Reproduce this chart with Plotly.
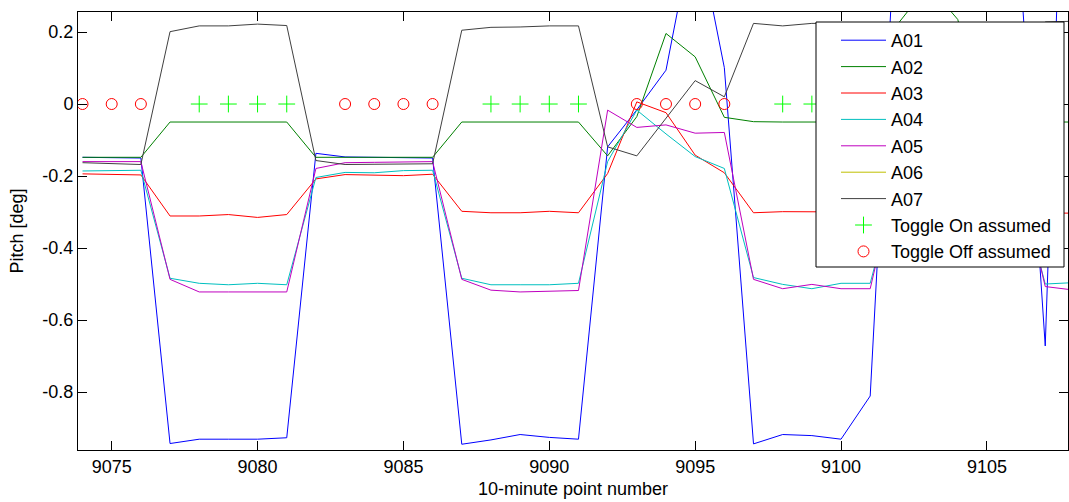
import plotly.graph_objects as go

# ---------------- data ----------------
points = list(range(9074, 9109))

A01 = [-0.148, -0.148, -0.150, -0.943, -0.931, -0.931, -0.931, -0.927, -0.137, -0.147,
       -0.148, -0.148, -0.150, -0.945, -0.933, -0.918, -0.926, -0.931, -0.119, -0.016,
       0.094, 0.510, 0.101, -0.944, -0.918, -0.921, -0.931, -0.811, 0.710, 0.750,
       0.700, 0.650, 0.550, -0.672, 1.700]
A02 = [-0.148, -0.148, -0.148, -0.050, -0.050, -0.050, -0.050, -0.050, -0.148, -0.148,
       -0.148, -0.148, -0.148, -0.050, -0.050, -0.050, -0.050, -0.050, -0.144, -0.035,
       0.196, 0.131, -0.037, -0.049, -0.050, -0.050, -0.050, -0.050, 0.228, 0.330,
       0.235, -0.050, -0.050, -0.050, -0.050]
A03 = [-0.194, -0.195, -0.197, -0.311, -0.311, -0.307, -0.315, -0.307, -0.208, -0.196,
       -0.197, -0.199, -0.195, -0.298, -0.302, -0.302, -0.298, -0.302, -0.193, 0.006,
       -0.024, -0.142, -0.191, -0.302, -0.299, -0.299, -0.300, -0.300, -0.200, -0.200,
       -0.200, -0.200, -0.200, -0.303, -0.303]
A04 = [-0.186, -0.186, -0.184, -0.484, -0.498, -0.502, -0.498, -0.502, -0.204, -0.190,
       -0.191, -0.185, -0.184, -0.484, -0.502, -0.502, -0.502, -0.498, -0.160, -0.017,
       -0.083, -0.146, -0.179, -0.482, -0.501, -0.513, -0.498, -0.498, -0.190, -0.190,
       -0.190, -0.190, -0.190, -0.500, -0.496]
A05 = [-0.160, -0.160, -0.160, -0.487, -0.522, -0.522, -0.522, -0.522, -0.179, -0.163,
       -0.162, -0.161, -0.160, -0.487, -0.517, -0.522, -0.519, -0.518, -0.017, -0.065,
       -0.058, -0.081, -0.079, -0.487, -0.513, -0.501, -0.513, -0.513, -0.165, -0.165,
       -0.165, -0.165, -0.165, -0.507, -0.517]
A06 = [None] * len(points)
A07 = [-0.163, -0.165, -0.168, 0.201, 0.217, 0.217, 0.222, 0.218, -0.157, -0.168,
       -0.167, -0.167, -0.166, 0.205, 0.213, 0.214, 0.217, 0.217, -0.119, -0.144,
       -0.039, 0.065, 0.020, 0.224, 0.217, 0.224, 0.224, 0.225, -0.160, -0.160,
       -0.160, -0.160, -0.160, 0.228, 0.230]

series_names = ["A01", "A02", "A03", "A04", "A05", "A06", "A07"]
series_values = [A01, A02, A03, A04, A05, A06, A07]
series_colors = ["#0000ff", "#008000", "#ff0000", "#00bfbf", "#bf00bf", "#bfbf00", "#404040"]

toggle_on_x = [9078, 9079, 9080, 9081, 9088, 9089, 9090, 9091, 9098, 9099, 9100, 9101]
toggle_on_y = [0] * len(toggle_on_x)
toggle_off_x = [9074, 9075, 9076, 9083, 9084, 9085, 9086, 9093, 9094, 9095, 9096,
                9103, 9104, 9105, 9106]
toggle_off_y = [0] * len(toggle_off_x)

x_tick_vals = [9075, 9080, 9085, 9090, 9095, 9100, 9105]
x_tick_text = ["9075", "9080", "9085", "9090", "9095", "9100", "9105"]
y_tick_vals = [-0.8, -0.6, -0.4, -0.2, 0, 0.2]
y_tick_text = ["-0.8", "-0.6", "-0.4", "-0.2", "0", "0.2"]

# ---------------- figure ----------------
FONT = "Liberation Sans, Arial, sans-serif"
fig = go.Figure()

for name, vals, col in zip(series_names, series_values, series_colors):
    fig.add_trace(go.Scatter(x=points, y=vals, mode="lines", name=name,
                             line=dict(color=col, width=1)))

fig.add_trace(go.Scatter(x=toggle_on_x, y=toggle_on_y, mode="markers",
                         name="Toggle On assumed",
                         marker=dict(symbol="cross-thin", size=12, color="#00ff00",
                                     line=dict(color="#00ff00", width=1))))
fig.add_trace(go.Scatter(x=toggle_off_x, y=toggle_off_y, mode="markers",
                         name="Toggle Off assumed",
                         marker=dict(symbol="circle-open", size=11, color="#ff0000",
                                     line=dict(color="#ff0000", width=1))))

L, R, T, B = 78, 1, 12, 52
W, H = 1069, 502
pw, ph = W - L - R, H - T - B

def px_x(p):
    return (p - L) / pw

def px_y(p):
    return (H - B - p) / ph

# legend box (drawn as a shape so the entries can be placed like the original)
fig.add_shape(type="rect", xref="paper", yref="paper",
              x0=px_x(816), x1=px_x(1064), y0=px_y(267), y1=px_y(22),
              fillcolor="white", line=dict(color="black", width=1), layer="above")

axis_common = dict(showgrid=False, zeroline=False, showline=True, linecolor="black",
                   linewidth=1, mirror="ticks", ticks="inside", ticklen=9,
                   tickcolor="black", tickfont=dict(family=FONT, size=18, color="black"))

fig.update_layout(
    width=W, height=H,
    margin=dict(l=L, r=R, t=T, b=B, autoexpand=False),
    paper_bgcolor="white", plot_bgcolor="white",
    font=dict(family=FONT, size=18, color="black"),
    xaxis=dict(range=[9073.845, 9107.78], tickvals=x_tick_vals, ticktext=x_tick_text,
               title=dict(text="10-minute point number", font=dict(size=18), standoff=6),
               automargin=False, **axis_common),
    yaxis=dict(range=[-0.961, 0.2556], tickvals=y_tick_vals, ticktext=y_tick_text,
               title=dict(text="Pitch [deg]", font=dict(size=18), standoff=14),
               automargin=False, **axis_common),
    showlegend=True,
    legend=dict(x=px_x(836), y=px_y(22), xanchor="left", yanchor="top",
                bgcolor="rgba(0,0,0,0)", borderwidth=0, itemwidth=45,
                font=dict(family=FONT, size=18, color="black"),
                tracegroupgap=0),
)

fig.write_html("out.html",
               config={"displayModeBar": False},
               post_script="document.body.style.margin='0px';document.body.style.overflow='hidden';")
